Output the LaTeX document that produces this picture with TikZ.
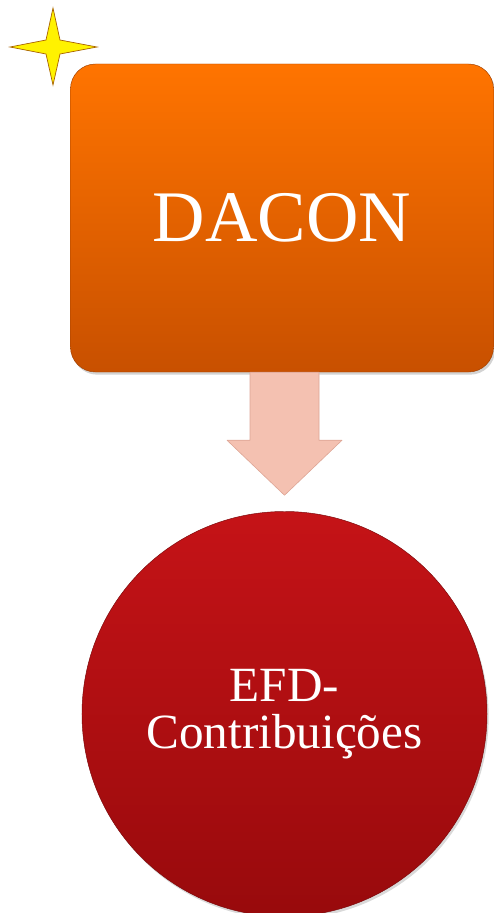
\documentclass[tikz,border=0pt]{standalone}
\usepackage{fontspec}
\setmainfont{Liberation Serif}
\usetikzlibrary{calc,shadows}

\definecolor{orangetop}{HTML}{FF7400}
\definecolor{orangebot}{HTML}{C85000}
\definecolor{redtop}{HTML}{C51317}
\definecolor{redbot}{HTML}{980A0C}
\definecolor{arrowfill}{HTML}{F4C1B1}
\definecolor{arrowedge}{HTML}{DDA595}
\definecolor{staredge}{HTML}{A86200}

\tikzset{
  box/.style={rounded corners=0.75cm, top color=orangetop, bottom color=orangebot,
    draw=orangebot!80!black, line width=0.4pt, minimum width=12.69cm, minimum height=9.24cm,
    drop shadow={opacity=0.35, shadow xshift=0.5mm, shadow yshift=-0.8mm},
    text=white, font=\fontsize{62}{62}\selectfont},
  disc/.style={circle, top color=redtop, bottom color=redbot, draw=redbot!80!black,
    line width=0.4pt, minimum size=12.15cm, inner sep=0pt,
    drop shadow={opacity=0.3, shadow xshift=0.5mm, shadow yshift=-0.8mm},
    text=white, align=center, font=\fontsize{42}{40}\selectfont},
  blockarrow/.style={fill=arrowfill, draw=arrowedge, line width=0.5pt, line join=round}
}

\begin{document}
\begin{tikzpicture}[x=0.03cm, y=-0.03cm]
  \useasboundingbox (0,0) rectangle (493,913);

  % Star
  \draw[fill=yellow, draw=staredge, line width=0.6pt]
    (53,8) -- (60,40) -- (97,47) -- (60,54) -- (53,85) -- (46,54) -- (10,47) -- (46,40) -- cycle;

  % DACON box
  \node[box] (dacon) at (282,218) {DACON};

  % EFD circle
  \node[disc] (efd) at (284.5,714) {EFD-\\Contribuições};

  % Arrow between them
  \draw[blockarrow] ($(dacon.south -| efd.north)+(-34.5,0)$) -- ++(0,68) -- ++(-23,0)
    -- ($(efd.north)+(0,-16)$) -- ($(dacon.south -| efd.north)+(57.5,68)$)
    -- ++(-23,0) -- ($(dacon.south -| efd.north)+(34.5,0)$) -- cycle;
\end{tikzpicture}
\end{document}
